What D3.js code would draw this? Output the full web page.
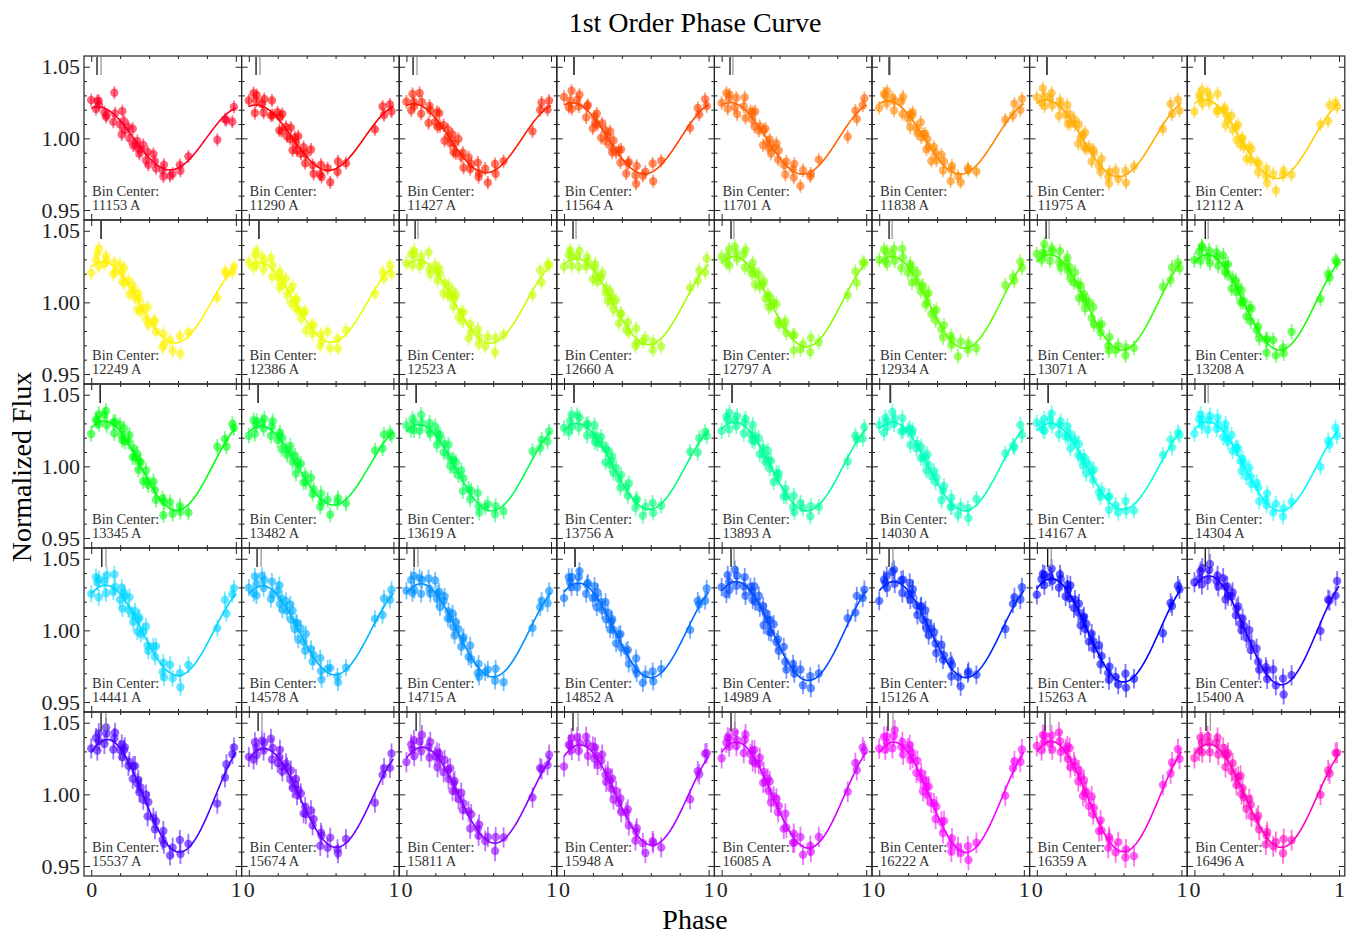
<!DOCTYPE html>
<html>
<head>
<meta charset="utf-8">
<script src="https://cdn.jsdelivr.net/npm/d3@7"></script>
<style>
  body { margin: 0; background: #fff; }
  svg text { font-family: "Liberation Serif", "DejaVu Serif", serif; }
</style>
</head>
<body>
<div id="chart"></div>
<script>
// wavelength bins (Angstrom)
const binCenters = [
  11153, 11290, 11427, 11564, 11701, 11838, 11975, 12112,
  12249, 12386, 12523, 12660, 12797, 12934, 13071, 13208,
  13345, 13482, 13619, 13756, 13893, 14030, 14167, 14304,
  14441, 14578, 14715, 14852, 14989, 15126, 15263, 15400,
  15537, 15674, 15811, 15948, 16085, 16222, 16359, 16496
]
// 1st order fit: offset + amp * cos(2pi (phase - peak))
const fitOffset = [
  1.000, 1.0005, 1.000, 1.000, 1.000, 1.0005, 1.000, 0.9995,
  1.000, 1.000, 1.0005, 1.0005, 1.0005, 1.000, 1.000, 1.000,
  1.0005, 1.0005, 0.999, 1.000, 1.000, 1.000, 1.000, 1.000,
  1.000, 1.000, 1.000, 1.000, 0.9995, 1.0005, 1.000, 1.000,
  0.999, 0.9975, 0.9995, 0.9995, 0.9995, 0.998, 0.9985, 0.999
]
const fitAmp = [
  0.022, 0.0228, 0.024, 0.0248, 0.025, 0.0255, 0.0268, 0.0275,
  0.0283, 0.0278, 0.029, 0.030, 0.0315, 0.032, 0.0333, 0.0333,
  0.0312, 0.0275, 0.030, 0.030, 0.031, 0.031, 0.030, 0.031,
  0.0315, 0.031, 0.0325, 0.033, 0.0345, 0.0335, 0.036, 0.038,
  0.0393, 0.0345, 0.0335, 0.035, 0.037, 0.0385, 0.0385, 0.036
]
const fitPeak = [
  0.045, 0.05, 0.05, 0.055, 0.06, 0.06, 0.065, 0.07,
  0.08, 0.07, 0.08, 0.085, 0.085, 0.09, 0.09, 0.09,
  0.09, 0.085, 0.09, 0.09, 0.09, 0.09, 0.095, 0.095,
  0.10, 0.095, 0.10, 0.10, 0.10, 0.10, 0.10, 0.10,
  0.11, 0.105, 0.11, 0.11, 0.10, 0.10, 0.10, 0.10
]
// short markers at top of each panel
const markBlack = [
  0.040, 0.050, 0.046, 0.069, 0.058, 0.068, 0.070, 0.073,
  0.068, 0.070, 0.060, 0.062, 0.065, 0.068, 0.064, 0.075,
  0.062, 0.064, 0.067, 0.069, 0.072, 0.075, 0.078, 0.073,
  0.073, 0.057, 0.053, 0.076, 0.065, 0.068, 0.075, 0.075,
  0.068, 0.064, 0.067, 0.062, 0.065, 0.061, 0.057, 0.080
]
const markGray = [
  0.068, 0.077, 0.073, 0.069, 0.078, 0.075, 0.070, 0.073,
  0.068, 0.070, 0.080, 0.083, 0.085, 0.089, 0.085, 0.095,
  0.062, 0.064, 0.067, 0.069, 0.072, 0.080, 0.078, 0.095,
  0.102, 0.085, 0.080, 0.076, 0.086, 0.095, 0.100, 0.100,
  0.102, 0.091, 0.094, 0.097, 0.092, 0.095, 0.091, 0.110
]
const errBar = [
  0.0045, 0.0045, 0.0046, 0.0046, 0.0047, 0.0047, 0.0048, 0.0048,
  0.0049, 0.0049, 0.0050, 0.0050, 0.0051, 0.0052, 0.0052, 0.0053,
  0.0054, 0.0054, 0.0055, 0.0055, 0.0056, 0.0056, 0.0057, 0.0058,
  0.0059, 0.0060, 0.0061, 0.0062, 0.0064, 0.0066, 0.0068, 0.0070,
  0.0070, 0.0070, 0.0071, 0.0071, 0.0072, 0.0072, 0.0073, 0.0073
]
const phases = [
  0.000, 0.033, 0.042, 0.052, 0.054, 0.091, 0.102, 0.107, 0.153, 0.160,
  0.165, 0.199, 0.211, 0.215, 0.227, 0.232, 0.257, 0.264, 0.287, 0.291,
  0.303, 0.319, 0.326, 0.333, 0.342, 0.360, 0.379, 0.390, 0.395, 0.430,
  0.441, 0.448, 0.494, 0.499, 0.503, 0.545, 0.563, 0.613, 0.617, 0.672,
  0.872, 0.925, 0.935, 0.976, 0.987
]
// residuals from the fit, in units of residUnit
const residUnit = 0.0014
const resid = [
  [4,-1,3,3,1, -2,-4,-3,-4,11, 1,-2,-6,6,2, -2,2,-3,4,-4, -2,1,-2,-4,-1, 3,-3,2,-4,4, 1,-2,-1,-4,2, -3,-2,1,-2,2, -8,-2,-3,-6,1],
  [3,6,-4,2,5, 1,-3,4,-2,6, -1,3,-5,2,-4, 5,1,-3,-2,4, -6,2,0,-3,5, -2,3,-4,1,6, -1,-5,-3,2,-4, 1,-6,-2,3,-1, -3,4,-1,2,-2],
  [2,-3,5,1,-1, 6,-4,2,-6,3, 1,-2,4,-3,5, -1,2,-5,3,0, -2,4,-4,1,-3, 6,-1,2,-5,3, -2,1,4,-3,-1, 2,-5,3,-2,1, -4,2,5,-1,3],
  [4,-2,1,6,-3, 2,-1,5,-4,2, 3,-6,1,-2,4, -1,-5,3,2,-3, 1,5,-2,-4,3, -1,2,-3,4,-5, 1,2,-2,-6,3, -1,1,4,-5,2, -2,3,-1,4,0],
  [1,5,-3,2,4, -2,3,-5,1,6, -4,2,-1,3,-3, 5,-2,1,-6,2, 4,-1,-3,2,-4, 1,5,-2,3,-1, -5,2,1,-3,4, -6,2,-2,-1,3, -6,2,-3,1,4],
  [-2,4,3,-1,5, 2,-4,1,3,-3, 6,-2,1,-5,2, 4,-1,-3,5,-2, 1,3,-4,2,-1, -6,3,1,-2,4, -3,2,-5,1,3, -1,-4,2,1,-3, 2,-1,4,-2,3],
  [3,-1,6,2,-3, 1,4,-2,-5,3, 1,-1,5,-4,2, -2,3,1,-6,4, -1,2,-3,5,-2, 1,-4,3,2,-1, -3,4,-2,-5,1, 3,-1,2,-4,1, -2,5,-1,3,-3],
  [-4,3,1,5,-2, 4,-1,2,-3,6, -2,1,3,-5,1, -1,4,-2,2,-4, 5,-3,1,2,-1, -5,3,-2,4,1, -3,2,-1,3,-4, 2,-6,1,3,-2, 1,-3,4,2,-1],
  [-3,2,5,-2,7, -1,3,1,-4,2, -2,4,1,-3,5, -2,2,-4,3,1, -1,-5,4,2,-3, 1,-2,5,-3,2, 4,-1,-5,2,-3, 1,-4,3,-6,2, -3,4,2,-1,1],
  [2,-2,4,6,-1, 3,-3,1,5,-4, 2,-1,-5,3,1, -2,4,-3,2,-4, 6,1,-2,3,-1, -3,2,4,-5,1, -2,3,-4,2,-1, 5,-3,1,-4,2, -2,3,-1,2,-3],
  [1,4,-2,3,5, -3,2,-1,6,-2, -4,3,1,-3,4, 2,-5,1,-2,3, -1,4,-3,2,5, -4,1,-2,3,-6, 2,-1,4,-3,1, -2,3,-5,2,1, -2,4,-3,2,1],
  [-1,3,5,-3,2, 1,-4,4,-2,3, 1,-5,2,4,-1, -3,2,5,-2,1, -4,3,-1,2,-3, 4,-5,1,2,-2, 3,-1,-4,5,-2, 1,3,-3,1,-4, 2,-1,3,-2,4],
  [3,-2,1,4,-4, 5,2,-1,3,-3, 6,-1,-2,4,1, -5,3,-2,2,4, -3,1,-4,2,-1, 3,5,-2,-3,1, 4,-1,2,-5,3, -2,1,-3,4,-1, -2,3,-4,2,1],
  [2,5,-1,3,-3, 1,4,-2,-4,6, 2,-3,1,3,-5, 2,-1,4,-2,1, 3,-4,2,-1,5, -3,1,-2,4,-1, -4,3,2,-2,1, -5,3,-1,2,-3, 4,1,-2,3,-1],
  [4,-1,2,6,1, -3,3,2,-2,4, -4,1,5,-1,2, -3,-2,4,1,-5, 3,-1,2,-4,1, 3,-2,5,-3,1, -1,4,-2,-4,3, -1,2,-3,1,-2, 3,-1,4,2,-2],
  [1,3,-2,5,4, -1,2,-4,3,1, -3,5,-2,2,-1, 4,-5,1,3,-2, 2,-3,4,-1,1, -4,3,-2,5,-1, 2,-3,1,-5,2, 4,-3,1,-2,6, -3,2,-1,3,1],
  [-3,2,1,4,-1, 3,5,-2,1,-4, 2,3,-1,-3,4, -2,1,5,-3,2, -1,3,-4,1,2, -5,3,-1,-2,4, 1,-3,2,-6,1, 3,-2,2,-1,-4, 5,2,-3,4,1],
  [-2,4,-3,1,3, 2,-1,4,-3,2, 5,-2,1,3,-4, 2,-1,-3,4,1, -2,3,-5,2,1, 4,-3,2,-1,5, -2,1,-4,3,-1, 2,-5,1,3,-2, 3,-2,4,1,-1],
  [3,-1,4,-2,2, -3,5,1,-1,3, -2,4,-4,2,1, 3,-3,2,-1,5, -4,1,2,-2,3, -1,4,-5,2,1, -3,2,5,-1,-4, 1,3,-2,2,-3, 4,-1,2,-3,1],
  [1,-3,2,5,-1, 4,-2,3,1,-4, 2,-1,5,-3,1, -2,4,1,-5,2, 3,-2,1,4,-3, 2,-1,-4,3,1, -2,5,-3,1,2, -4,1,3,-2,-1, 3,-4,2,1,-2],
  [-1,4,2,-3,5, 1,-2,3,-4,2, 4,-1,-3,5,-2, 1,3,-4,2,-1, -3,5,1,-2,3, -5,2,1,4,-3, 2,-1,-2,4,-4, 3,1,-3,2,-1, -2,4,1,-3,2],
  [2,-4,3,1,-2, 5,-1,2,-3,4, -2,1,3,-5,2, 4,-2,1,-3,3, -1,2,-4,5,1, -2,3,-1,2,-5, 1,4,-2,3,-1, -3,2,1,-4,3, 2,-1,-3,4,-2],
  [4,1,-2,3,-3, 2,5,-1,-4,1, 3,-2,4,-1,2, -5,1,3,-2,4, -1,-3,2,1,-4, 3,2,-1,5,-2, -3,1,2,-4,3, 1,-2,4,-1,-3, 2,3,-2,1,-1],
  [-2,3,5,-1,2, -4,1,3,-2,4, 1,-3,2,5,-1, -2,4,-3,1,2, 3,-1,-5,2,1, -3,4,1,-2,3, 2,-4,1,-1,5, -2,3,-3,1,2, -4,2,-1,3,-2],
  [0,6,3,-5,4, 2,-4,5,-2,7, 1,-3,4,-6,3, 2,-2,5,-1,-4, 3,-5,2,4,-3, 1,6,-2,-4,3, -1,5,-3,2,-5, 4,-2,1,-6,3, -2,5,-3,2,4],
  [3,-2,6,-4,2, 5,-1,3,-5,4, -2,2,6,-3,1, -4,3,-1,5,-2, 4,-3,1,2,-5, 3,-1,-4,5,2, -3,1,4,-2,-6, 2,3,-1,-4,1, 2,-3,4,-1,3],
  [1,4,-3,5,-2, 3,-5,2,4,-1, -3,6,-2,1,3, -4,2,5,-3,1, -1,4,-2,-5,3, 2,-4,1,3,-2, 5,-1,-3,2,-4, 1,3,-2,4,-5, -2,1,3,-3,2],
  [-3,5,2,-1,4, -2,3,6,-4,1, 2,-3,4,-1,-5, 3,1,-2,5,-3, 2,-4,1,3,-1, -5,2,4,-2,1, 3,-3,-1,5,-2, -4,1,3,-2,2, -3,4,1,-2,3],
  [2,-4,5,1,-3, 6,-2,3,-1,4, -5,2,1,-3,5, -2,4,-1,3,-6, 2,1,-4,3,-2, 5,-1,2,-3,4, -2,-5,3,1,-1, 4,-3,2,-4,1, 3,-2,5,-1,2],
  [-5,3,1,4,-2, 5,6,-1,2,-4, 3,-2,5,-3,1, 4,-1,-5,2,3, -2,5,-3,1,-4, 2,3,-1,-5,4, -2,1,3,-4,2, -1,-5,2,3,-1, -3,2,4,-2,3],
  [-3,2,4,-2,3, 1,5,-1,-3,4, 2,-4,3,1,-2, 5,-3,2,-1,4, -5,1,3,-2,2, -4,3,1,-2,5, -3,2,-1,-4,3, 1,-2,4,-3,-1, -5,2,-1,4,1],
  [2,1,4,-3,5, -2,3,6,-1,2, -3,4,1,-5,3, -1,2,5,-3,1, 4,-2,-4,3,1, -2,5,-3,1,4, -1,-4,3,2,-2, 6,-1,3,-5,2, -4,3,1,-2,4],
  [2,4,-3,5,1, -2,6,3,-4,2, 5,-1,3,-3,2, 4,-2,1,-4,3, 5,-1,2,-3,1, -2,4,-5,3,1, -3,2,-1,4,-2, -4,1,6,-1,2, -6,-2,3,2,4],
  [1,-3,5,2,-2, 4,-1,3,6,-4, 2,-3,1,5,-2, -4,3,2,-1,4, -3,1,5,-2,2, 3,-4,1,-2,5, -1,3,-5,2,1, -2,4,-1,-3,2, -5,1,3,-2,4],
  [-2,4,1,5,-3, 3,-2,6,1,-4, 4,-1,2,-5,3, 1,-3,4,2,-2, 5,-4,1,3,-1, -2,4,-3,1,2, -5,3,1,-2,4, -1,2,-4,3,1, -3,4,2,-1,3],
  [-5,3,2,5,-1, 4,-3,1,5,2, -4,3,-2,4,1, -3,2,6,-1,-4, 3,1,-2,4,-5, 2,-1,3,-3,2, 5,-2,-4,1,3, -1,-5,2,1,-3, -4,2,-1,4,3],
  [-3,2,4,-1,3, 5,-2,1,-4,3, 6,-1,2,-3,4, -2,1,5,-4,2, -1,3,-2,4,-5, 1,3,-2,2,-4, 5,-1,-3,2,-2, 4,-4,1,-2,3, -2,4,-1,5,2],
  [2,5,-2,4,1, -3,3,6,-1,2, -4,2,5,-2,3, 1,-3,4,-1,2, -5,3,1,-2,4, -1,2,-4,3,1, -3,4,-2,-5,2, 1,-1,3,-4,2, -3,2,4,-2,3],
  [3,-2,5,1,4, -1,3,-4,6,2, -3,1,4,-2,5, -4,2,1,-3,3, 2,-5,4,-1,1, -3,5,-2,2,-4, 3,-1,-4,2,1, -2,4,-3,1,-5, 2,-1,3,4,-2],
  [-2,-1,5,2,-3, 4,1,-4,2,5, -3,3,1,-5,2, 4,-2,3,-1,-4, 2,5,-3,1,-2, -5,3,2,-3,1, 4,-2,-4,1,3, -1,2,-3,4,1, -3,1,-2,3,2]
]
const xMajor = [0, 1]
const xMinor = [0.2, 0.4, 0.6, 0.8]
const yMajor = [0.95, 1.00, 1.05]
const yMinor = [0.96, 0.97, 0.98, 0.99, 1.01, 1.02, 1.03, 1.04]

// gist_rainbow colormap stops
const rainbowStops = [0, 0.03, 0.215, 0.4, 0.586, 0.77, 0.954, 1]
const rainbowColors = ["rgb(255,0,41)", "rgb(255,0,0)", "rgb(255,255,0)", "rgb(0,255,0)",
  "rgb(0,255,255)", "rgb(0,0,255)", "rgb(255,0,255)", "rgb(255,0,191)"]

const width = 1346, height = 934
const cols = 8, rows = 5
const gridLeft = 84, gridTop = 56
const pw = 157.6, ph = 164

const colorScale = d3.scaleLinear().domain(rainbowStops).range(rainbowColors)
const x = d3.scaleLinear().domain([-0.05, 1.04]).range([0, pw])
const y = d3.scaleLinear().domain([0.943, 1.0575]).range([ph, 0])
const line = d3.line().x(d => x(d[0])).y(d => y(d[1]))

const svg = d3
  .select("#chart")
  .append("svg")
  .attr("width", width)
  .attr("height", height)
  .attr("viewBox", [0, 0, width, height])

function styleAxis(g, size) {
  g.select(".domain").remove()
  g.attr("color", "#222")
  g.selectAll(".tick line").attr("stroke-width", 1)
  g.selectAll(".tick text")
    .attr("font-family", "Liberation Serif, DejaVu Serif, serif")
    .attr("font-size", size)
    .attr("fill", "#222")
}

binCenters.forEach((bc, i) => {
  const r = Math.floor(i / cols)
  const c = i % cols
  const color = colorScale(i / (binCenters.length - 1))
  const model = p => fitOffset[i] + fitAmp[i] * Math.cos(2 * Math.PI * (p - fitPeak[i]))

  const g = svg
    .append("g")
    .attr("transform", `translate(${gridLeft + c * pw},${gridTop + r * ph})`)

  // data points with error bars
  const pts = phases.map((p, k) => ({ p, f: model(p) + resid[i][k] * residUnit }))
  g.append("g")
    .selectAll("line")
    .data(pts)
    .join("line")
    .attr("x1", d => x(d.p))
    .attr("x2", d => x(d.p))
    .attr("y1", d => y(d.f - errBar[i]))
    .attr("y2", d => y(d.f + errBar[i]))
    .attr("stroke", color)
    .attr("stroke-width", 1.8)
    .attr("stroke-opacity", 0.55)
  g.append("g")
    .selectAll("circle")
    .data(pts)
    .join("circle")
    .attr("cx", d => x(d.p))
    .attr("cy", d => y(d.f))
    .attr("r", 4.2)
    .attr("fill", color)
    .attr("fill-opacity", 0.6)

  // fit curve
  const curve = d3.range(0, 201).map(k => [k / 200, model(k / 200)])
  g.append("path")
    .attr("d", line(curve))
    .attr("fill", "none")
    .attr("stroke", color)
    .attr("stroke-width", 1.6)

  // markers at top
  g.append("line")
    .attr("x1", x(markGray[i])).attr("x2", x(markGray[i]))
    .attr("y1", 1).attr("y2", 19)
    .attr("stroke", "#999").attr("stroke-width", 1.3)
  g.append("line")
    .attr("x1", x(markBlack[i])).attr("x2", x(markBlack[i]))
    .attr("y1", 1).attr("y2", 19)
    .attr("stroke", "#111").attr("stroke-width", 1.3)

  // labels
  g.append("text")
    .attr("x", 8).attr("y", 140)
    .attr("font-size", 14.5).attr("fill", "#333")
    .text("Bin Center:")
  g.append("text")
    .attr("x", 8).attr("y", 154)
    .attr("font-size", 14.5).attr("fill", "#333")
    .text(`${bc} A`)

  // ticks, inward on all four sides
  const lastRow = r === rows - 1
  const firstCol = c === 0
  g.append("g")
    .attr("transform", `translate(0,${ph})`)
    .call(d3.axisBottom(x).tickValues(xMajor).tickSize(-6).tickPadding(5)
      .tickFormat(lastRow ? d3.format("d") : ""))
    .call(a => styleAxis(a, 22))
  g.append("g")
    .attr("transform", `translate(0,${ph})`)
    .call(d3.axisBottom(x).tickValues(xMinor).tickSize(-3).tickFormat(""))
    .call(a => styleAxis(a, 10))
  g.append("g")
    .call(d3.axisTop(x).tickValues(xMajor).tickSize(-6).tickFormat(""))
    .call(a => styleAxis(a, 10))
  g.append("g")
    .call(d3.axisTop(x).tickValues(xMinor).tickSize(-3).tickFormat(""))
    .call(a => styleAxis(a, 10))
  g.append("g")
    .call(d3.axisLeft(y).tickValues(yMajor).tickSize(-6).tickPadding(4)
      .tickFormat(firstCol ? d3.format(".2f") : ""))
    .call(a => styleAxis(a, 22))
  g.append("g")
    .call(d3.axisLeft(y).tickValues(yMinor).tickSize(-3).tickFormat(""))
    .call(a => styleAxis(a, 10))
  g.append("g")
    .attr("transform", `translate(${pw},0)`)
    .call(d3.axisRight(y).tickValues(yMajor).tickSize(-6).tickFormat(""))
    .call(a => styleAxis(a, 10))
  g.append("g")
    .attr("transform", `translate(${pw},0)`)
    .call(d3.axisRight(y).tickValues(yMinor).tickSize(-3).tickFormat(""))
    .call(a => styleAxis(a, 10))

  g.append("rect")
    .attr("width", pw)
    .attr("height", ph)
    .attr("fill", "none")
    .attr("stroke", "#222")
    .attr("stroke-width", 1.2)
})

svg.append("text")
  .attr("x", 695).attr("y", 32)
  .attr("text-anchor", "middle")
  .attr("font-size", 28)
  .text("1st Order Phase Curve")

svg.append("text")
  .attr("x", 695).attr("y", 929)
  .attr("text-anchor", "middle")
  .attr("font-size", 28)
  .text("Phase")

svg.append("text")
  .attr("transform", "translate(31,467)rotate(-90)")
  .attr("text-anchor", "middle")
  .attr("font-size", 28)
  .text("Normalized Flux")
</script>
</body>
</html>
